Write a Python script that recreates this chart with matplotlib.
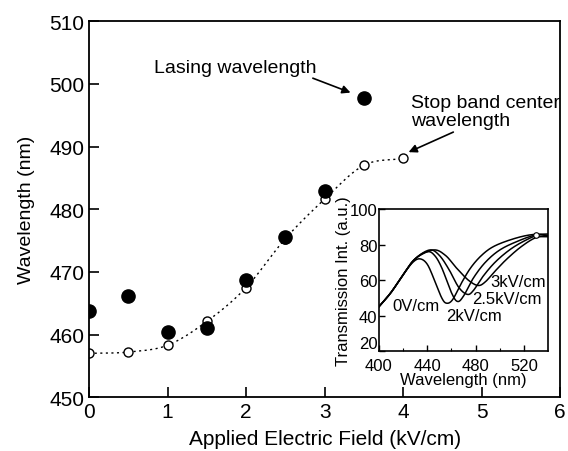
import numpy as np
import matplotlib
matplotlib.use('Agg')
import matplotlib.pyplot as plt

plt.rcParams['font.family'] = ['Liberation Sans', 'DejaVu Sans']

# main panel: lasing (filled) and stop band center (open)
field_lasing = [0, 0.5, 1, 1.5, 2, 2.5, 3, 3.5]
wl_lasing = [463.7, 466.1, 460.4, 461.0, 468.7, 475.5, 482.9, 497.7]
field_stop = [0, 0.5, 1, 1.5, 2, 2.5, 3, 3.5, 4]
wl_stop = [457.0, 457.2, 458.3, 462.1, 467.5, 475.3, 481.6, 487.0, 488.1]

# inset: transmission spectra
spec_labels = ['0V/cm', '2kV/cm', '2.5kV/cm', '3kV/cm']
spec_wl = [
    [400, 410, 420, 428, 434, 440, 446, 452, 456, 461, 468, 476, 485, 495, 510, 525, 540],
    [400, 410, 420, 430, 440, 446, 452, 460, 465, 470, 478, 488, 500, 515, 530, 540],
    [400, 410, 420, 430, 442, 450, 458, 466, 473, 478, 486, 496, 508, 520, 532, 540],
    [400, 410, 420, 430, 445, 455, 464, 474, 482, 488, 496, 506, 518, 530, 540],
]
spec_t = [
    [45, 53, 63, 70, 72, 69, 60, 50, 47, 49, 58, 67, 74, 79, 83, 85.5, 86],
    [45, 53, 63, 72, 76, 74, 67, 53, 48, 51, 61, 70, 77, 82, 85.5, 85],
    [45, 53, 63, 72, 77, 74, 66, 56, 52, 54, 62, 70, 77, 82, 85.5, 85],
    [45, 53, 63, 72, 77, 74, 67, 60, 57, 59, 65, 72, 79, 84, 84.5],
]
label_pos = [(431, 45.5), (479, 40), (506, 49.5), (515, 59.5)]


def smooth(x, y, n=20):
    # Catmull-Rom through the read points, for drawing only
    x = np.asarray(x, float)
    y = np.asarray(y, float)
    px = np.concatenate([[2 * x[0] - x[1]], x, [2 * x[-1] - x[-2]]])
    py = np.concatenate([[2 * y[0] - y[1]], y, [2 * y[-1] - y[-2]]])
    t = np.linspace(0, 1, n, endpoint=False)
    xs, ys = [], []
    for i in range(1, len(px) - 2):
        for p, out in ((px, xs), (py, ys)):
            p0, p1, p2, p3 = p[i - 1], p[i], p[i + 1], p[i + 2]
            out.append(0.5 * (2 * p1 + (-p0 + p2) * t
                              + (2 * p0 - 5 * p1 + 4 * p2 - p3) * t ** 2
                              + (-p0 + 3 * p1 - 3 * p2 + p3) * t ** 3))
    xs.append([x[-1]])
    ys.append([y[-1]])
    return np.concatenate(xs), np.concatenate(ys)


arrow = dict(arrowstyle='-|>', color='black', lw=1.2,
             shrinkA=0, shrinkB=0, mutation_scale=12)

fig = plt.figure(figsize=(5.68, 4.52), dpi=100)
ax = fig.add_axes([0.157, 0.119, 0.829, 0.832])

sx, sy = smooth(field_stop, wl_stop)
ax.plot(sx, sy, color='black', lw=1.0, ls=(0, (1.5, 2.5)))
ax.plot(field_stop, wl_stop, 'o', ms=6.5, mfc='white', mec='black', mew=1.0)
ax.plot(field_lasing, wl_lasing, 'o', ms=9.5, color='black')

ax.set_xlim(0, 6)
ax.set_ylim(450, 510)
ax.set_xticks(range(0, 7))
ax.set_yticks(range(450, 511, 10))
ax.tick_params(direction='in', length=7, width=1.2, labelsize=15)
for s in ax.spines.values():
    s.set_linewidth(1.3)
ax.set_xlabel('Applied Electric Field (kV/cm)', fontsize=15, labelpad=6)
ax.set_ylabel('Wavelength (nm)', fontsize=14, labelpad=10)

ax.text(0.82, 502.6, 'Lasing wavelength', fontsize=14, ha='left', va='center')
ax.annotate('', xy=(3.33, 498.6), xytext=(2.85, 500.9), arrowprops=arrow)
ax.text(4.1, 495.6, 'Stop band center\nwavelength', fontsize=14,
        ha='left', va='center', linespacing=1.1)
ax.annotate('', xy=(4.07, 489.1), xytext=(4.64, 492.3), arrowprops=arrow)

# inset
ins = fig.add_axes([0.667, 0.221, 0.298, 0.314])
for wl, tr in zip(spec_wl, spec_t):
    x, y = smooth(wl, tr)
    ins.plot(x, y, color='black', lw=1.1)
ins.plot([530], [85.4], 'o', ms=4, mfc='white', mec='black', mew=0.8)
for lab, (lx, ly) in zip(spec_labels, label_pos):
    ins.text(lx, ly, lab, fontsize=12, ha='center', va='center')
ins.set_xlim(400, 540)
ins.set_ylim(20, 100)
ins.set_xticks([400, 440, 480, 520])
ins.set_xticks([420, 460, 500], minor=True)
ins.set_yticks([20, 40, 60, 80, 100])
ins.tick_params(direction='in', length=4, width=1.0, labelsize=12)
ins.tick_params(axis='x', pad=5)
ins.tick_params(axis='y', pad=1)
ins.tick_params(which='minor', direction='in', length=2.5, width=0.8)
for s in ins.spines.values():
    s.set_linewidth(1.2)
ins.set_xlabel('Wavelength (nm)', fontsize=12, labelpad=-1)
ins.set_ylabel('Transmission Int. (a.u.)', fontsize=12, labelpad=-1)
# nudge the lowest y label up a little so it clears "400"
ins.get_yticklabels()[0].set_va('bottom')

fig.savefig('out.png', dpi=100)
